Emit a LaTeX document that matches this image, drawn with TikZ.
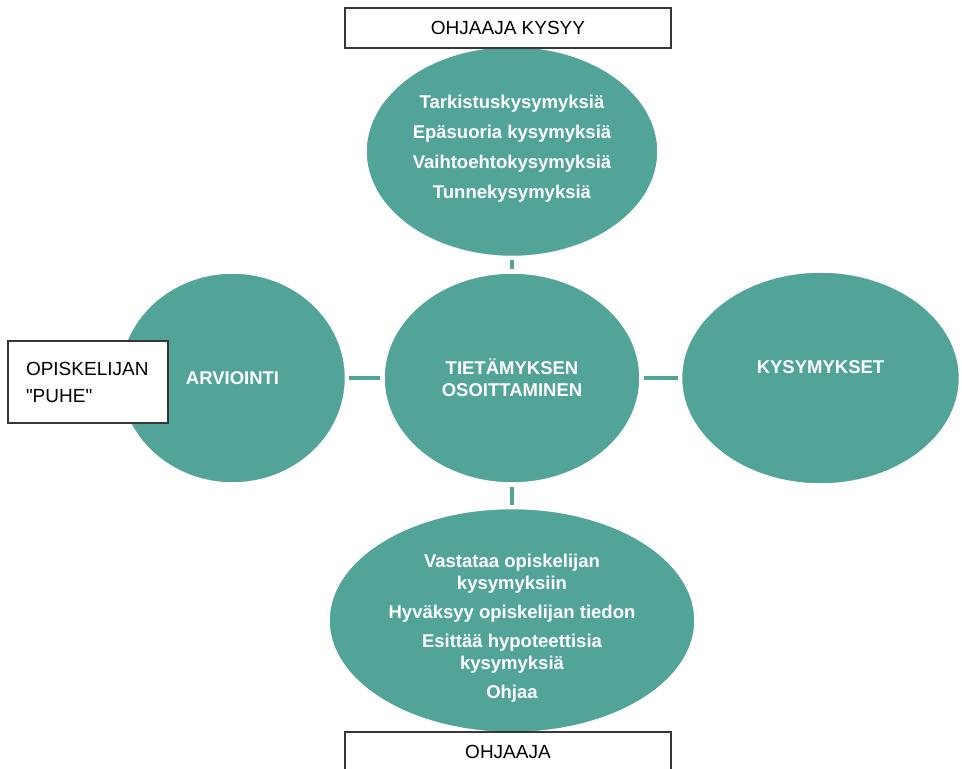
\documentclass[tikz,border=0pt]{standalone}
\usepackage{fontspec}
\setmainfont{Liberation Sans}
\usetikzlibrary{shapes,backgrounds,positioning}
\definecolor{turkoosi}{RGB}{82,163,152}
\definecolor{reuna}{RGB}{55,55,55}
\tikzset{
  pallo/.style = {ellipse, fill=turkoosi, draw=white, line width=1.5pt,
    inner sep=0pt, text=white, align=center,
    font=\bfseries\fontsize{18.5}{22}\selectfont},% vihrea ellipsi
  laatikko/.style = {rectangle, draw=reuna, line width=1.2pt, fill=white,
    inner sep=0pt, font=\fontsize{19}{27}\selectfont},% valkoinen kehys
  viiva/.style = {turkoosi, line width=4pt, shorten <=3pt, shorten >=3pt}% yhdysviiva
}

\begin{document}
\begin{tikzpicture}[x=1pt,y=-1pt]
    \useasboundingbox (0,0) rectangle (962,769);
    \node [pallo, minimum width=256, minimum height=210](T) at (512,378)
        {TIETÄMYKSEN\\OSOITTAMINEN};
    \node [pallo, minimum width=292, minimum height=210, above=15pt of T](Y)
        {Tarkistuskysymyksiä\\[8pt]Epäsuoria kysymyksiä\\[8pt]Vaihtoehtokysymyksiä\\[8pt]Tunnekysymyksiä\\[-12pt]};
    \node [pallo, minimum width=226, minimum height=210, left=37pt of T](V) {ARVIOINTI};
    \node [pallo, minimum width=278, minimum height=212, right=40pt of T](O) {KYSYMYKSET\\[0pt]};
    \node [pallo, minimum width=366, minimum height=224, inner ysep=-12pt, below=24pt of T](A)
        {\rule{0pt}{29pt}Vastataa opiskelijan\\kysymyksiin\\[7pt]Hyväksyy opiskelijan tiedon\\[7pt]Esittää hypoteettisia\\kysymyksiä\\[7pt]Ohjaa};
    \node [laatikko, minimum width=326, minimum height=40](K) at (508,28) {OHJAAJA KYSYY};
    \node [laatikko, align=left, text width=124, inner xsep=18pt, minimum height=82](P) at (88,382)
        {OPISKELIJAN\\\textquotedbl PUHE\textquotedbl};
    \node [laatikko, minimum width=326, minimum height=40](H) at (508,752) {OHJAAJA};
    \draw [viiva] (Y) -- (T);
    \draw [viiva] (V) -- (T);
    \draw [viiva] (T) -- (O);
    \draw [viiva] (T) -- (A);
\end{tikzpicture}
\end{document}
